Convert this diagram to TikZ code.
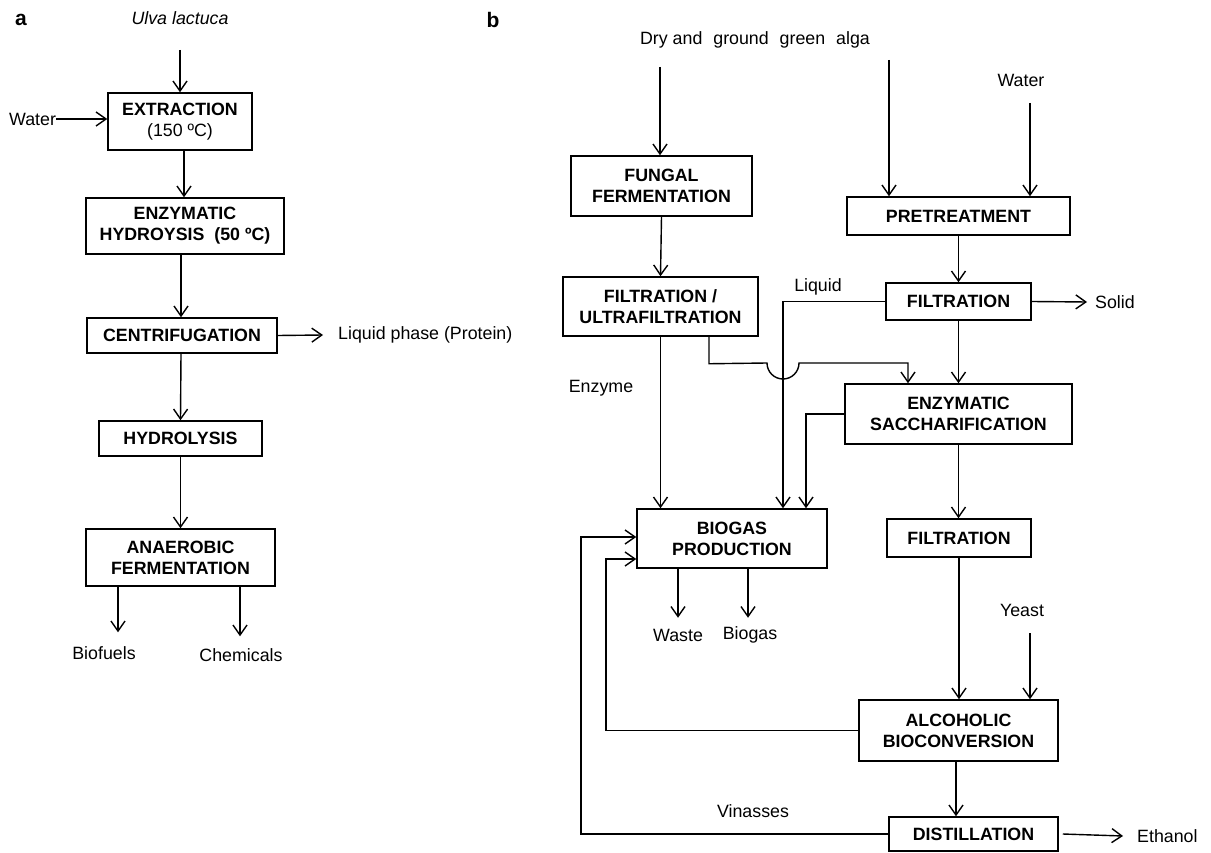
\documentclass[tikz,border=0pt]{standalone}
\usepackage{fontspec}
\setmainfont{Liberation Sans}
\usetikzlibrary{arrows.meta}
\begin{document}
\begin{tikzpicture}[x=1pt,y=-1pt,
  every node/.style={font=\fontsize{17.8}{21}\selectfont, inner sep=0pt},
  box/.style={draw, line width=1.5pt, align=center, font=\fontsize{17.8}{21}\selectfont\bfseries},
  lbl/.style={font=\fontsize{17.8}{21}\selectfont},
  panel/.style={font=\fontsize{21}{24}\selectfont\bfseries},
  conn/.style={line width=1.4pt},
  arr/.style={conn, -{Straight Barb[length=10pt,width=14pt,line width=1.4pt]}}]
\useasboundingbox (0,0) rectangle (1211,853);
\fill[white] (0,0) rectangle (1211,853);

% ---------------- panel a ----------------
\node[panel] (pa) at (21,20) {a};
\node[lbl, font=\fontsize{17.8}{21}\selectfont\itshape] (ulva) at (180,18) {Ulva lactuca};
\coordinate (ulvaend) at (180,50);
\node[box, minimum width=144pt, minimum height=57pt] (ext) at (180,121.5)
  {EXTRACTION\\\mdseries(150 ºC)};
\node[lbl, anchor=west] (watera) at (9,119) {Water};
\node[box, minimum width=198pt, minimum height=56pt] (enz) at (185,226)
  {ENZYMATIC\\HYDROYSIS\ \ (50 ºC)};
\node[box, minimum width=190pt, minimum height=35pt] (cen) at (182,335.5) {CENTRIFUGATION};
\node[lbl, anchor=west] (liqp) at (338,335) {Liquid phase (Protein)};
\node[box, minimum width=163pt, minimum height=35pt] (hyd) at (180.5,438.5) {HYDROLYSIS};
\node[box, minimum width=189pt, minimum height=57pt] (ana) at (180.5,557.5)
  {ANAEROBIC\\FERMENTATION};
\node[lbl] (biof) at (104,653) {Biofuels};
\node[lbl] (chem) at (241,655) {Chemicals};

\draw[arr] (ulvaend) -- (ext.north);
\draw[arr] (watera.east) -- (ext.west |- watera.east);
\draw[arr] ([xshift=4pt]ext.south) -- ([xshift=-1pt]enz.north);
\draw[arr] ([xshift=-4pt]enz.south) -- ([xshift=-1pt]cen.north);
\draw[arr] (cen.east) -- ([xshift=-15pt]liqp.west);
\draw[arr] ([xshift=-1pt]cen.south) -- (hyd.north);
\draw[arr] (hyd.south) -- (ana.north);
\draw[arr] ([xshift=-62.5pt]ana.south) -- ([xshift=14pt,yshift=14pt]biof.north);
\draw[arr] ([xshift=59.5pt]ana.south) -- ([xshift=-1pt,yshift=12pt]chem.north);

% ---------------- panel b ----------------
\node[panel] (pb) at (493,20) {b};
\node[lbl] (alga) at (755,40) {Dry and\hspace{6pt} ground\hspace{6pt} green\hspace{6pt} alga};
\coordinate (algaend1) at (660,67);
\coordinate (algaend2) at (889,60);
\node[lbl] (waterb) at (1021,80) {Water};
\coordinate (waterbend) at (1030,103);

\node[box, minimum width=181pt, minimum height=60pt] (fung) at (661.5,186)
  {FUNGAL\\FERMENTATION};
\node[box, minimum width=195pt, minimum height=59pt] (filtu) at (660.5,306.5)
  {FILTRATION /\\ULTRAFILTRATION};
\node[box, minimum width=223pt, minimum height=38pt] (pre) at (958.5,216) {PRETREATMENT};
\node[box, minimum width=145pt, minimum height=37pt] (filt1) at (958.5,301.5) {FILTRATION};
\node[lbl, anchor=west] (solid) at (1095,302) {Solid};
\node[lbl] (liquid) at (818,287) {Liquid};
\node[lbl] (enzyme) at (601,388) {Enzyme};
\node[box, minimum width=227pt, minimum height=60pt] (sacch) at (958.5,414)
  {ENZYMATIC\\SACCHARIFICATION};
\node[box, minimum width=190pt, minimum height=59pt] (bio) at (732,538.5)
  {BIOGAS\\PRODUCTION};
\node[lbl] (waste) at (678,635) {Waste};
\node[lbl] (biogas) at (750,635) {Biogas};
\node[box, minimum width=144pt, minimum height=38pt] (filt2) at (959,538) {FILTRATION};
\node[lbl] (yeast) at (1022,610) {Yeast};
\coordinate (yeastend) at (1030,633);
\node[box, minimum width=199pt, minimum height=61pt] (alc) at (958.5,730.5)
  {ALCOHOLIC\\BIOCONVERSION};
\node[lbl] (vin) at (753,811) {Vinasses};
\node[box, minimum width=169pt, minimum height=34pt] (dist) at (973.5,834) {DISTILLATION};
\node[lbl, anchor=west] (eth) at (1137,836) {Ethanol};
\coordinate (fbx1) at (606,0);
\coordinate (fbx2) at (581,0);

\draw[arr] (algaend1) -- (algaend1 |- fung.north);
\draw[arr] (algaend2) -- (algaend2 |- pre.north);
\draw[arr] (waterbend) -- (waterbend |- pre.north);
\draw[arr] (fung.south) -- (filtu.north);
\draw[arr] (pre.south) -- (filt1.north);
\draw[arr] (filt1.east) -- ([xshift=-8pt]solid.west);
\draw[arr] (filt1.west) -| ([xshift=51pt]bio.north);
\draw[arr] (filt1.south) -- (sacch.north);
\draw[arr] ([xshift=48.5pt]filtu.south) -- ++(0,27) -- (767,363)
  arc[start angle=180, end angle=0, radius=16] -- (908,363) -- ([xshift=-50.5pt]sacch.north);
\draw[arr] (sacch.west) -| ([xshift=74pt]bio.north);
\draw[arr] (filtu.south) -- (filtu.south |- bio.north);
\draw[arr] ([xshift=-54pt]bio.south) -- ++(0,49);
\draw[arr] ([xshift=16pt]bio.south) -- ++(0,49);
\draw[arr] (sacch.south) -- (sacch.south |- filt2.north);
\draw[arr] (filt2.south) -- (filt2.south |- alc.north);
\draw[arr] (yeastend) -- (yeastend |- alc.north);
\draw[arr] ([xshift=-2.5pt]alc.south) -- ([xshift=-2.5pt]alc.south |- dist.north);
\draw[arr] (dist.east) ++(4,0) -- ([xshift=-14pt]eth.west);
\draw[arr] (alc.west) -- (alc.west -| fbx1) |- ([yshift=-20.5pt]bio.west);
\draw[arr] (dist.west) -- (dist.west -| fbx2) |- ([yshift=1.5pt]bio.west);
\end{tikzpicture}
\end{document}
